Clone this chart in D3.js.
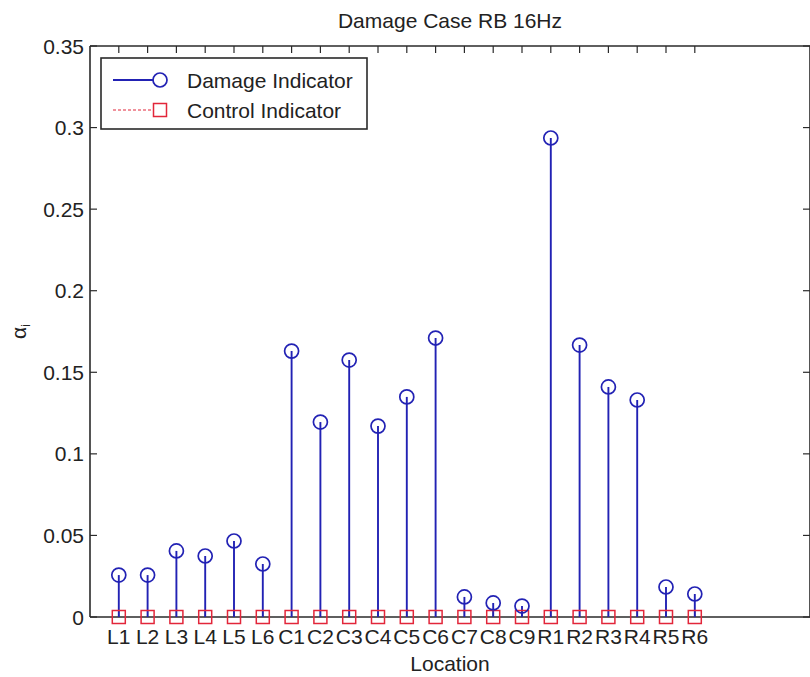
<!DOCTYPE html>
<html>
<head>
<meta charset="utf-8">
<script src="https://cdn.jsdelivr.net/npm/d3@7"></script>
<style>
  html, body { margin: 0; padding: 0; background: #fff; }
  svg { display: block; }
  text { font-family: "Liberation Sans", Arial, sans-serif; fill: #222; }
</style>
</head>
<body>
<script>
const categories = ["L1","L2","L3","L4","L5","L6","C1","C2","C3","C4","C5","C6","C7","C8","C9","R1","R2","R3","R4","R5","R6"];
const damageIndicator = [0.0257,0.0257,0.0405,0.0374,0.0466,0.0325,0.1630,0.1195,0.1575,0.1170,0.1349,0.1710,0.0123,0.0086,0.0067,0.2936,0.1667,0.1410,0.1330,0.0184,0.0141];
const controlIndicator = [0,0,0,0,0,0,0,0,0,0,0,0,0,0,0,0,0,0,0,0,0];
const yTicks = [0,0.05,0.1,0.15,0.2,0.25,0.3,0.35];
const yTickLabels = ["0","0.05","0.1","0.15","0.2","0.25","0.3","0.35"];
const titleText = "Damage Case RB 16Hz";
const xLabel = "Location";
const seriesNames = ["Damage Indicator","Control Indicator"];

const W = 810, H = 677;
const mLeft = 90, mRight = 810, mTop = 46, mBottom = 617;

const svg = d3.select("body").append("svg").attr("width", W).attr("height", H);

const x = d3.scaleLinear().domain([0, 25]).range([mLeft, mRight]);
const y = d3.scaleLinear().domain([0, 0.35]).range([mBottom, mTop]);

const blue = "#2222b4";
const red = "#e2263a";
const axisColor = "#2a2a2a";
const tickLen = 7;
const fs = 21;

// axes box
const g = svg.append("g");
g.append("line").attr("x1", mLeft).attr("x2", mRight).attr("y1", mTop).attr("y2", mTop).attr("stroke", axisColor).attr("stroke-width", 1.6);
g.append("line").attr("x1", mLeft).attr("x2", mRight).attr("y1", mBottom).attr("y2", mBottom).attr("stroke", axisColor).attr("stroke-width", 1.6);
g.append("line").attr("x1", mLeft).attr("x2", mLeft).attr("y1", mTop).attr("y2", mBottom).attr("stroke", axisColor).attr("stroke-width", 1.6);
g.append("line").attr("x1", mRight).attr("x2", mRight).attr("y1", mTop).attr("y2", mBottom).attr("stroke", axisColor).attr("stroke-width", 1.6);

// y ticks left and right
yTicks.forEach((t, i) => {
  g.append("line").attr("x1", mLeft).attr("x2", mLeft + tickLen).attr("y1", y(t)).attr("y2", y(t)).attr("stroke", axisColor).attr("stroke-width", 1.2);
  g.append("line").attr("x1", mRight - tickLen).attr("x2", mRight).attr("y1", y(t)).attr("y2", y(t)).attr("stroke", axisColor).attr("stroke-width", 1.2);
  g.append("text").attr("x", mLeft - 6).attr("y", y(t)).attr("dy", "0.36em")
    .attr("text-anchor", "end").attr("font-size", fs).text(yTickLabels[i]);
});

// x ticks top/bottom and labels
categories.forEach((c, i) => {
  const xx = x(i + 1);
  g.append("line").attr("x1", xx).attr("x2", xx).attr("y1", mTop).attr("y2", mTop + tickLen).attr("stroke", axisColor).attr("stroke-width", 1.2);
  g.append("line").attr("x1", xx).attr("x2", xx).attr("y1", mBottom).attr("y2", mBottom - tickLen).attr("stroke", axisColor).attr("stroke-width", 1.2);
  g.append("text").attr("x", xx).attr("y", mBottom + 27).attr("text-anchor", "middle").attr("font-size", fs).text(c);
});

// damage stems
const idx = d3.range(categories.length);
svg.append("g").selectAll("line").data(idx).join("line")
  .attr("x1", i => x(i + 1)).attr("x2", i => x(i + 1))
  .attr("y1", y(0)).attr("y2", i => y(damageIndicator[i]))
  .attr("stroke", blue).attr("stroke-width", 1.9);

// control stems (dotted, zero height)
svg.append("g").selectAll("line").data(idx).join("line")
  .attr("x1", i => x(i + 1)).attr("x2", i => x(i + 1))
  .attr("y1", y(0)).attr("y2", i => y(controlIndicator[i]))
  .attr("stroke", red).attr("stroke-width", 1.2).attr("stroke-dasharray", "3,2");

// control squares
const sq = 6.5;
svg.append("g").selectAll("rect").data(idx).join("rect")
  .attr("x", i => x(i + 1) - sq).attr("y", i => y(controlIndicator[i]) - sq)
  .attr("width", 2 * sq).attr("height", 2 * sq)
  .attr("fill", "none").attr("stroke", red).attr("stroke-width", 1.5);

// damage circles
svg.append("g").selectAll("circle").data(idx).join("circle")
  .attr("cx", i => x(i + 1)).attr("cy", i => y(damageIndicator[i]))
  .attr("r", 7).attr("fill", "none").attr("stroke", blue).attr("stroke-width", 1.7);

// title
svg.append("text").attr("x", 450).attr("y", 28).attr("text-anchor", "middle")
  .attr("font-size", fs).text(titleText);

// x label
svg.append("text").attr("x", 450).attr("y", 671).attr("text-anchor", "middle")
  .attr("font-size", fs).text(xLabel);

// y label
const yl = svg.append("text").attr("transform", `translate(26,${(mTop + mBottom) / 2}) rotate(-90)`)
  .attr("text-anchor", "middle").attr("font-size", fs);
yl.append("tspan").text("α");
yl.append("tspan").attr("font-size", 12).attr("dy", 4).text("i");

// legend
const lg = svg.append("g");
lg.append("rect").attr("x", 101).attr("y", 58).attr("width", 266).attr("height", 71)
  .attr("fill", "#fff").attr("stroke", axisColor).attr("stroke-width", 1.6);
lg.append("line").attr("x1", 113).attr("x2", 160).attr("y1", 80).attr("y2", 80).attr("stroke", blue).attr("stroke-width", 1.9);
lg.append("circle").attr("cx", 160).attr("cy", 80).attr("r", 7).attr("fill", "#fff").attr("stroke", blue).attr("stroke-width", 1.7);
lg.append("text").attr("x", 187).attr("y", 80).attr("dy", "0.36em").attr("font-size", fs).text(seriesNames[0]);
lg.append("line").attr("x1", 113).attr("x2", 160).attr("y1", 110).attr("y2", 110).attr("stroke", red).attr("stroke-width", 1.2).attr("stroke-dasharray", "3,2");
lg.append("rect").attr("x", 160 - sq).attr("y", 110 - sq).attr("width", 2 * sq).attr("height", 2 * sq).attr("fill", "#fff").attr("stroke", red).attr("stroke-width", 1.5);
lg.append("text").attr("x", 187).attr("y", 110).attr("dy", "0.36em").attr("font-size", fs).text(seriesNames[1]);
</script>
</body>
</html>
